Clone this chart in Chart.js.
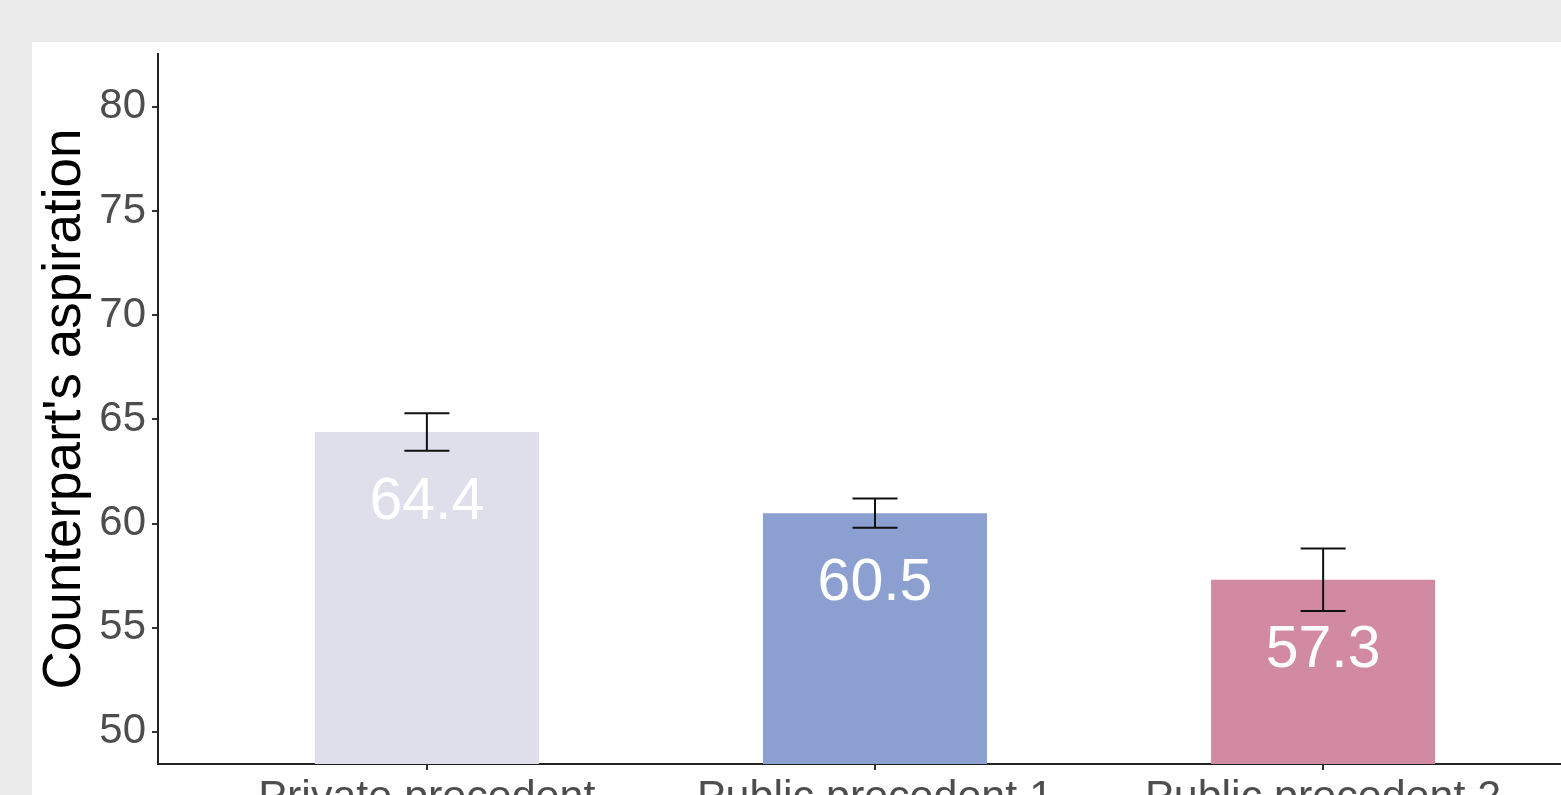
<!DOCTYPE html>
<html>
<head>
<meta charset="utf-8">
<script src="https://cdn.jsdelivr.net/npm/chart.js@4/dist/chart.umd.min.js"></script>
<style>
  html, body { margin: 0; padding: 0; background: #ebebeb; overflow: hidden; width: 1561px; height: 795px; }
  #wrap { position: absolute; left: 32px; top: 42px; background: #fff; }
  canvas { display: block; }
</style>
</head>
<body>
<div id="wrap"><canvas id="aspChart" width="1600" height="820"></canvas></div>
<script>
const categories = ["Private precedent", "Public precedent 1", "Public precedent 2"];
const means = [64.4, 60.5, 57.3];
const stdErrors = [0.9, 0.7, 1.5];
const barColors = ["#dedfea", "#8c9fd1", "#d18aa1"];
const yTicks = [50, 55, 60, 65, 70, 75, 80];

const FONT = "'Liberation Sans', Arial, sans-serif";

// error bars and the value printed inside each bar
const barExtras = {
  id: "barExtras",
  afterDatasetsDraw(chart) {
    const { ctx, scales: { x, y } } = chart;
    const meta = chart.getDatasetMeta(0);
    ctx.save();
    meta.data.forEach((bar, i) => {
      const cx = x.getPixelForValue(i);
      const lo = y.getPixelForValue(means[i] - stdErrors[i]);
      const hi = y.getPixelForValue(means[i] + stdErrors[i]);
      const half = 22.5;
      ctx.strokeStyle = "#111";
      ctx.lineWidth = 2;
      ctx.beginPath();
      ctx.moveTo(cx, lo); ctx.lineTo(cx, hi);
      ctx.moveTo(cx - half, lo); ctx.lineTo(cx + half, lo);
      ctx.moveTo(cx - half, hi); ctx.lineTo(cx + half, hi);
      ctx.stroke();

      ctx.fillStyle = "#fff";
      ctx.font = "59px " + FONT;
      ctx.textAlign = "center";
      ctx.textBaseline = "middle";
      ctx.fillText(means[i].toFixed(1), cx, y.getPixelForValue(means[i]) + 71);
    });
    ctx.restore();
  }
};

new Chart(document.getElementById("aspChart"), {
  type: "bar",
  data: {
    datasets: [{
      data: categories.map((c, i) => ({ x: i, y: means[i] })),
      backgroundColor: barColors,
      borderWidth: 0,
      barPercentage: 0.5,
      categoryPercentage: 1
    }]
  },
  options: {
    responsive: false,
    devicePixelRatio: 1,
    animation: false,
    layout: { padding: { top: 12, left: 0, right: 40, bottom: 0 } },
    plugins: { legend: { display: false }, tooltip: { enabled: false } },
    scales: {
      x: {
        type: "linear",
        min: -0.6,
        max: 2.6,
        offset: false,
        afterFit: (s) => { s.height = 98; s.paddingLeft = 0; s.paddingRight = 0; },
        afterBuildTicks: (s) => { s.ticks = categories.map((c, i) => ({ value: i })); },
        grid: { offset: false, drawOnChartArea: false, drawTicks: true, tickLength: 6, color: "#333", lineWidth: 2 },
        border: { display: true, color: "#222", width: 2 },
        ticks: {
          autoSkip: false,
          maxRotation: 0,
          padding: 2,
          color: "#4d4d4d",
          font: { family: FONT, size: 43 },
          callback: (v) => categories[v]
        }
      },
      y: {
        min: 48.46,
        max: 82.54,
        afterFit: (s) => { s.width = 126; s.paddingTop = 0; s.paddingBottom = 0; },
        afterBuildTicks: (s) => { s.ticks = yTicks.map(v => ({ value: v })); },
        grid: { drawOnChartArea: false, drawTicks: true, tickLength: 6, color: "#333", lineWidth: 2 },
        border: { display: true, color: "#222", width: 2 },
        ticks: {
          padding: 6,
          color: "#4d4d4d",
          font: { family: FONT, size: 42 }
        },
        title: {
          display: true,
          text: "Counterpart's aspiration",
          color: "#000",
          font: { family: FONT, size: 53 },
          padding: { top: 2, bottom: 0 }
        }
      }
    }
  },
  plugins: [barExtras]
});
</script>
</body>
</html>
